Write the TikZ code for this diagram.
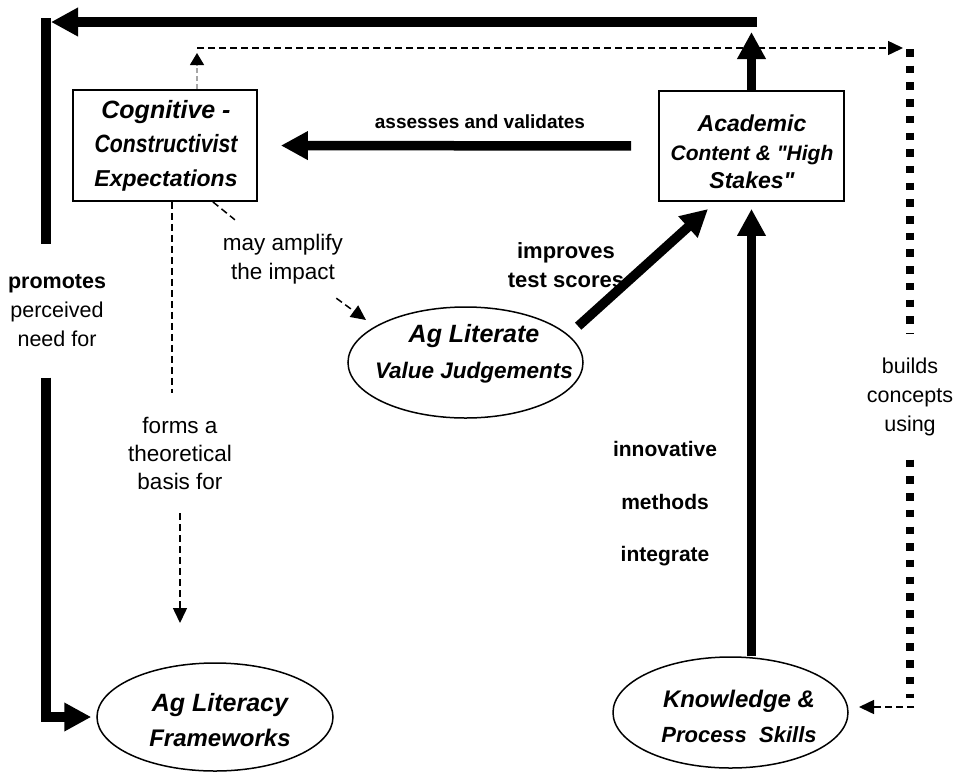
\documentclass[tikz,border=0pt]{standalone}
\usepackage{fontspec}
\setmainfont{Liberation Sans}[Ligatures=TeXOff]
\usepackage{graphicx}
\usetikzlibrary{arrows.meta,shapes.geometric}
\newcommand{\fsz}[2]{\fontsize{#1pt}{#2pt}\selectfont}

\begin{document}
\begin{tikzpicture}[x=1pt,y=-1pt,
  box/.style={draw,line width=1.8pt,inner sep=0pt},
  oval/.style={draw,ellipse,line width=1.5pt,inner sep=0pt},
  title/.style={align=center,inner sep=0pt},
  lbl/.style={align=center,inner sep=0pt},
  heavyline/.style={line width=9.5pt},
  heavy/.style={heavyline,-{Triangle[length=27pt,width=27pt]}},
  dashline/.style={line width=1.5pt,dash pattern=on 7pt off 4pt},
  dasharrow/.style={dashline,-{Triangle[length=15pt,width=14pt]}},
  grayarrow/.style={line width=1.2pt,gray!70,dash pattern=on 5pt off 3pt,
    -{Triangle[length=12pt,width=14pt,color=black]}},
  squaredots/.style={line width=8pt,dash pattern=on 7.5pt off 9.2pt}
]
\useasboundingbox (0,0) rectangle (954,772);

% concept shapes
\node[box,minimum width=184pt,minimum height=111pt] (cog) at (165,145.5) {};
\node[box,minimum width=185pt,minimum height=110pt] (acad) at (751.5,146) {};
\node[oval,minimum width=235pt,minimum height=111pt] (vj) at (465.5,362.5) {};
\node[oval,minimum width=236pt,minimum height=108pt] (lit) at (215,717) {};
\node[oval,minimum width=235pt,minimum height=111pt] (kn) at (730.5,712.5) {};

% concept titles
\node[title,font=\bfseries\itshape\fsz{25}{34}] (cogT) at (166,146)
  {Cognitive -\\\scalebox{0.85}[1]{Constructivist}\\\fsz{23}{34}Expectations};
\node[title,font=\bfseries\itshape\fsz{23}{28.5}] (acadT) at (752,152)
  {Academic\\\fsz{21}{28.5}Content \& "High\\Stakes"};
\node[title,font=\bfseries\itshape\fsz{25}{36}] (vjT) at (474,354)
  {Ag Literate\\\fsz{22.5}{36}Value Judgements};
\node[title,font=\bfseries\itshape\fsz{25}{35}] (litT) at (220,720)
  {Ag Literacy\\\fsz{24}{35}Frameworks};
\node[title,font=\bfseries\itshape\fsz{24}{35}] (knT) at (739,716)
  {Knowledge \&\\\fsz{22}{35}Process\ \ Skills};

% link labels
\node[lbl,font=\fsz{22.5}{29},minimum height=78pt] (ampLbl) at (283,259)
  {may amplify\\the impact};
\node[lbl,font=\fsz{21.5}{29},minimum height=133pt] (promLbl) at (57,311)
  {\textbf{promotes}\\perceived\\need for};
\node[lbl,font=\fsz{22.5}{28},minimum height=120pt] (formsLbl) at (180,453)
  {forms a\\theoretical\\basis for};
\node[lbl,font=\fsz{21.5}{29},minimum height=125pt] (buildsLbl) at (910,397)
  {builds\\concepts\\using};
\node[lbl,font=\bfseries\fsz{19}{24}] (assessLbl) at (480,122)
  {assesses and validates};
\node[lbl,font=\bfseries\fsz{22}{29}] (impLbl) at (566,265)
  {improves\\test scores};
\node[lbl,font=\bfseries\fsz{21}{52.5}] (methLbl) at (665,504)
  {innovative\\methods\\integrate};

% free ends of connectors
\coordinate (cornerL) at (46,18);
\coordinate (topR) at (757,22);
\coordinate (topL) at (51,22);
\coordinate (upTip) at (751.5,32);
\coordinate (dashL) at (197,48);
\coordinate (dashR) at (903,48);
\coordinate (grayTip) at (197,53);
\coordinate (dotTop) at (910,49);
\coordinate (dotBot) at (910,698);
\coordinate (dashCorner) at (914,707);
\coordinate (knTip) at (859,707);
\coordinate (formsTip) at (180,623);
\coordinate (ampTip) at (366,320);
\coordinate (impTip) at (708,209);

% heavy links
\draw[heavy] (acad.north) -- (upTip);
\draw[heavy] (topR) -- (topL);
\draw[heavyline] (cornerL) -- (cornerL |- promLbl.north);
\draw[heavy,shorten >=5pt] (cornerL |- promLbl.south) |- (lit.west);
\draw[heavy,shorten <=27pt,shorten >=23pt] (acad.west) -- (cog.east);
\draw[heavy,shorten <=13pt] (vj.15) -- (impTip);
\draw[heavy,shorten >=7pt] (kn.north -| acad.south) -- (acad.south);

% dashed links
\draw[grayarrow] (cog.north -| dashL) -- (grayTip);
\draw[dasharrow] (dashL) -- (dashR);
\draw[squaredots] (dotTop) -- (dotTop |- buildsLbl.north);
\draw[squaredots] (dotTop |- buildsLbl.south) -- (dotBot);
\draw[dasharrow] (dashCorner) -- (knTip);
\draw[dashline] ([xshift=7pt]cog.south) -- ([xshift=7pt]cog.south |- formsLbl.north);
\draw[dasharrow] (formsLbl.south -| formsTip) -- (formsTip);
\draw[dasharrow] ([xshift=-45pt]cog.south east) -- (ampLbl) -- (ampTip);
\end{tikzpicture}
\end{document}
